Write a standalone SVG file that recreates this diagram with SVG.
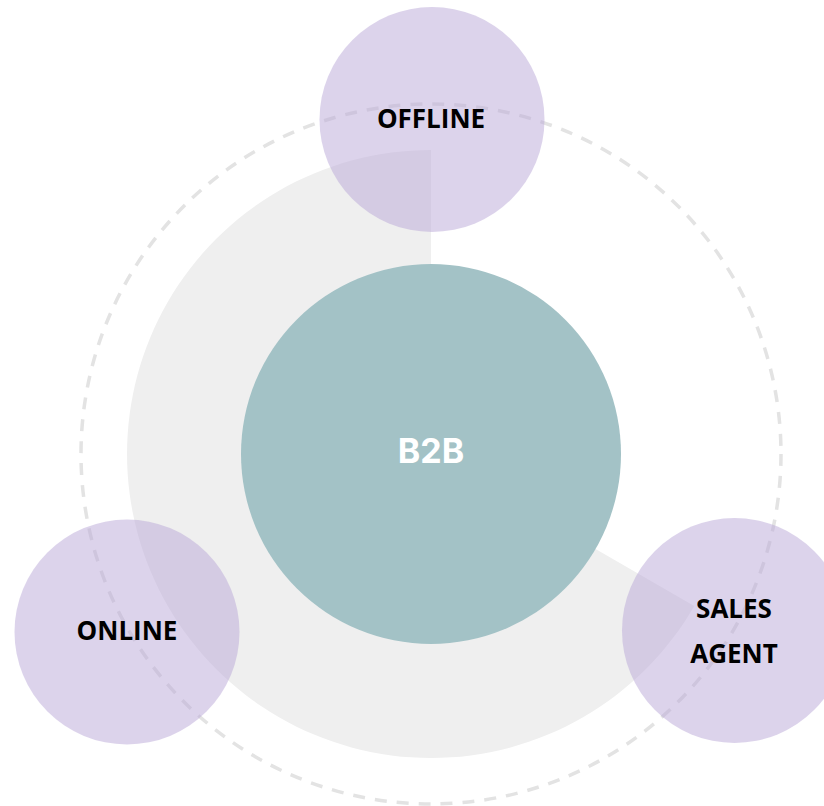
<svg xmlns="http://www.w3.org/2000/svg" width="824" height="806" viewBox="0 0 824 806">
<style>
.sat{fill:#b9a8d8;fill-opacity:0.5}
.lbl{font-family:"Open Sans","Liberation Sans",sans-serif;font-weight:700;font-size:26px;fill:#000;text-anchor:middle}
.ctr{font-family:Inter,Roboto,"Liberation Sans",sans-serif;font-weight:700;font-size:34px;fill:#fff;text-anchor:middle}
</style>
<rect width="824" height="806" fill="#fff"/>
<g id="ring">
<path d="M431 454 L694.3 606 A304 304 0 1 1 431 150 Z" fill="#efefef"/>
</g>
<g id="connectors">
<circle cx="431" cy="454" r="350" fill="none" stroke="#e3e3e3" stroke-width="3.5" stroke-dasharray="12 10"/>
</g>
<g id="b2b">
<circle cx="431" cy="454" r="190" fill="#a3c2c6"/>
<text class="ctr" x="431" y="463">B2B</text>
</g>
<g id="offline">
<circle class="sat" cx="432" cy="119.5" r="112.5"/>
<text class="lbl" x="431" y="128">OFFLINE</text>
</g>
<g id="online">
<circle class="sat" cx="127" cy="632" r="112.5"/>
<text class="lbl" x="127" y="640">ONLINE</text>
</g>
<g id="sales-agent">
<circle class="sat" cx="734.5" cy="630.5" r="112.5"/>
<text class="lbl" x="734" y="618">SALES</text>
<text class="lbl" x="734" y="663">AGENT</text>
</g>
</svg>
